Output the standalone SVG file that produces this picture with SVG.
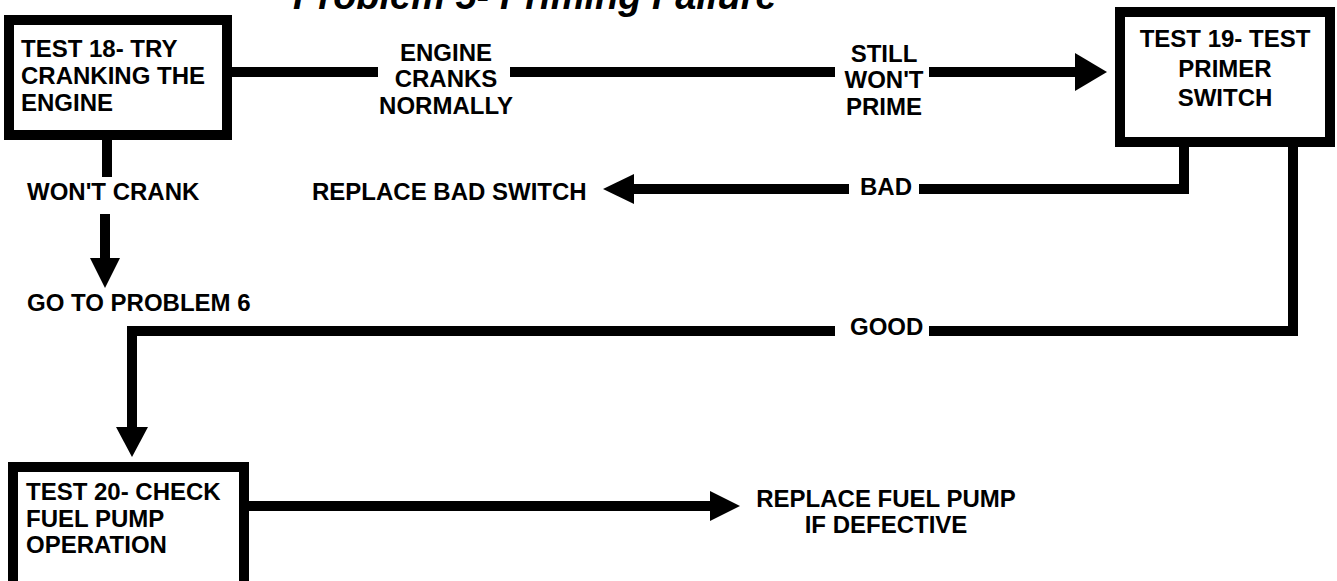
<svg xmlns="http://www.w3.org/2000/svg" width="1337" height="581" viewBox="0 0 1337 581">
<style>
.t{font-family:"Liberation Sans",Arial,Helvetica,sans-serif;font-weight:700;font-size:24px;fill:#000}
.c{text-anchor:middle}
.title{font-family:"Liberation Sans",Arial,Helvetica,sans-serif;font-weight:700;font-style:italic;font-size:38px;fill:#000}
.box{fill:#fff;stroke:#000;stroke-width:10}
.ln{fill:none;stroke:#000;stroke-width:10;stroke-linejoin:miter}
.ah{fill:#000}
</style>
<rect width="1337" height="581" fill="#fff"/>
<text id="title" class="title" x="293" y="9">Problem 5- Priming Failure</text>
<g id="connectors">
  <path class="ln" d="M232,72 H378 M510,72 H835 M929,72 H1077"/>
  <polygon class="ah" points="1075,53 1107,72 1075,91"/>
  <path class="ln" d="M107,140 V177"/>
  <path class="ln" d="M105,214 V260"/>
  <polygon class="ah" points="90,258 120,258 105,288"/>
  <path class="ln" d="M919,189 H1184 V147"/>
  <path class="ln" d="M849,189 H632"/>
  <polygon class="ah" points="634,174 603,189 634,204"/>
  <path class="ln" d="M929,331 H1293 V147"/>
  <path class="ln" d="M835,331 H132 V429"/>
  <polygon class="ah" points="116,427 148,427 132,457"/>
  <path class="ln" d="M249,506 H712"/>
  <polygon class="ah" points="710,491 740,506 710,521"/>
</g>
<g id="test18">
  <rect class="box" x="9" y="20" width="218" height="115"/>
  <text class="t" x="21" y="57">TEST 18- TRY</text>
  <text class="t" x="21" y="84">CRANKING THE</text>
  <text class="t" x="21" y="111">ENGINE</text>
</g>
<g id="test19">
  <rect class="box" x="1120" y="12" width="210" height="130"/>
  <text class="t c" x="1225" y="47">TEST 19- TEST</text>
  <text class="t c" x="1225" y="77">PRIMER</text>
  <text class="t c" x="1225" y="106">SWITCH</text>
</g>
<g id="test20">
  <rect class="box" x="13" y="467" width="231" height="140"/>
  <text class="t" x="26" y="500">TEST 20- CHECK</text>
  <text class="t" x="26" y="527">FUEL PUMP</text>
  <text class="t" x="26" y="553">OPERATION</text>
</g>
<g id="label-engine-cranks">
  <text class="t c" x="446" y="61">ENGINE</text>
  <text class="t c" x="446" y="87">CRANKS</text>
  <text class="t c" x="446" y="114">NORMALLY</text>
</g>
<g id="label-still">
  <text class="t c" x="884" y="62">STILL</text>
  <text class="t c" x="884" y="88">WON'T</text>
  <text class="t c" x="884" y="115">PRIME</text>
</g>
<g id="label-wont-crank"><text class="t" x="27" y="200">WON'T CRANK</text></g>
<g id="go-problem6"><text class="t" x="27" y="311">GO TO PROBLEM 6</text></g>
<g id="replace-switch"><text class="t" x="312" y="200">REPLACE BAD SWITCH</text></g>
<g id="label-bad"><text class="t" x="860" y="195">BAD</text></g>
<g id="label-good"><text class="t" x="850" y="335">GOOD</text></g>
<g id="replace-pump">
  <text class="t c" x="886" y="507">REPLACE FUEL PUMP</text>
  <text class="t c" x="886" y="533">IF DEFECTIVE</text>
</g>
</svg>
